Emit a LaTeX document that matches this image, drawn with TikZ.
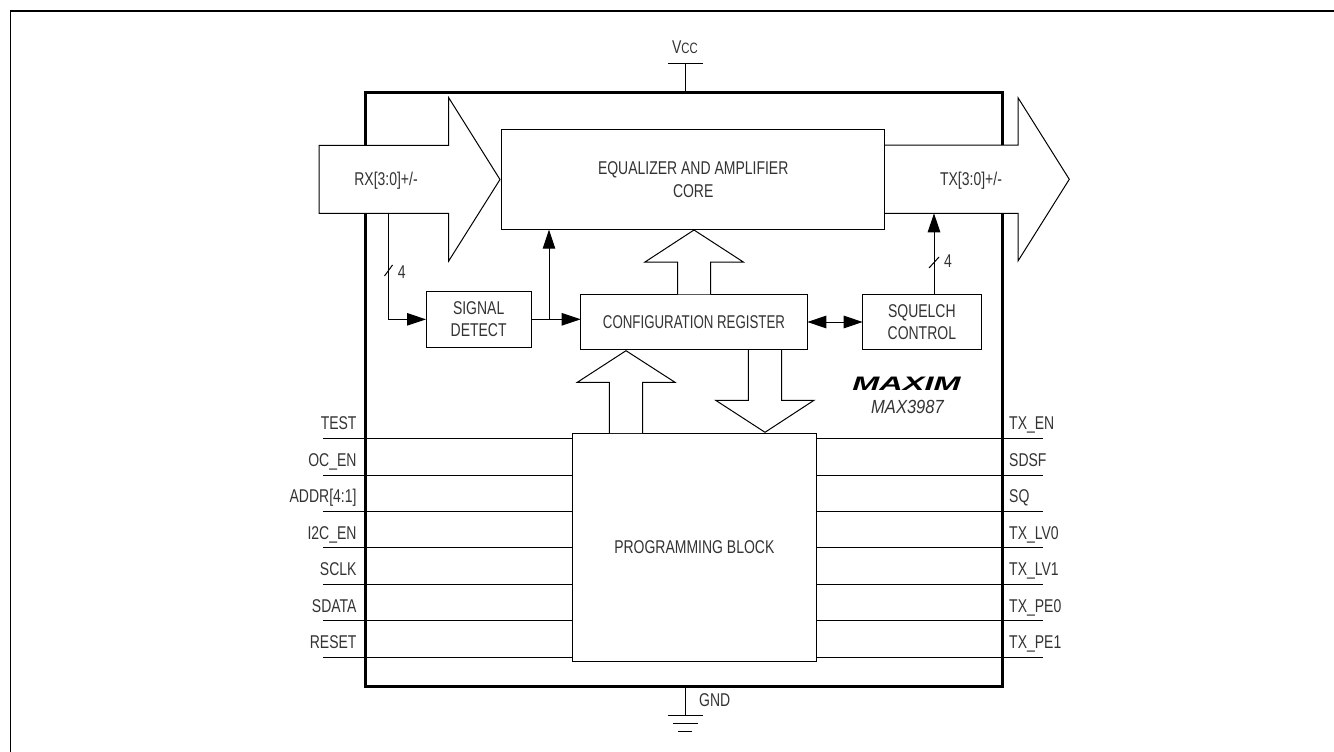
\documentclass[tikz,border=0pt]{standalone}
\usepackage{fontspec}
\setmainfont[FakeStretch=0.756]{Liberation Sans}
\usetikzlibrary{positioning,arrows.meta}
\begin{document}
\begin{tikzpicture}[
		x=1pt,y=-1pt,
		>={Triangle[length=19pt,width=12.5pt]},
		every node/.style={font=\fontsize{18.5}{22.5}\selectfont,text=black!80},
		blockbox/.style={draw,line width=1pt,fill=white,align=center,inner sep=0pt,outer sep=0pt,anchor=north west},
		pinlabel/.style={inner sep=0pt},
		wire/.style={line width=1pt},
		busarrow/.style={draw,line width=1pt,fill=white,line join=miter}
	]
	\useasboundingbox (0,0) rectangle (1334,752);
	\draw[line width=1.4pt] (10.5,752) -- (10.5,11) -- (1334,11);

	% chip outline
	\node (chip) [draw,line width=3pt,minimum width=636.3pt,minimum height=593.7pt,anchor=north west,inner sep=0pt,outer sep=0pt] at (365.7,92.3) {};

	% supply pins
	\coordinate (vcctop) at (685,64);
	\coordinate (gndtop) at (685,715);
	\draw[wire] (vcctop) -- (vcctop |- chip.north);
	\draw[wire] (668,64) -- (703,64);
	\draw[wire] (gndtop |- chip.south) -- (gndtop);
	\draw[wire] (668,715) -- (703,715) (673,723) -- (698,723) (678,731) -- (692,731);
	\node (vcc) [pinlabel,anchor=base] at (685,54) {V\fontsize{15}{15}\selectfont CC};
	\node (gnd) [pinlabel,anchor=base west] at (699,706) {GND};

	% big bus arrows
	\draw[busarrow] (319,145.3) -- (448.7,145.3) -- (448.7,97.7) -- (500,179.5) -- (448.7,261) -- (448.7,213.3) -- (319,213.3) -- cycle;
	\draw[busarrow] (870,145) -- (1018,145) -- (1018,97.7) -- (1069.3,179.3) -- (1018,261) -- (1018,213.3) -- (870,213.3) -- cycle;

	% blocks
	\node (core) [blockbox,minimum width=383pt,minimum height=100.4pt] at (501.7,129.3) {EQUALIZER AND AMPLIFIER\\CORE};
	\node (signal) [blockbox,minimum width=105.3pt,minimum height=55.3pt] at (426,291.7) {SIGNAL\\DETECT};
	\node (config) [blockbox,minimum width=226.6pt,minimum height=55.4pt] at (580.7,294.3) {\scalebox{0.95}[1]{CONFIGURATION REGISTER}};
	\node (squelch) [blockbox,minimum width=118.3pt,minimum height=55.4pt] at (862.7,294.3) {SQUELCH\\CONTROL};
	\node (prog) [blockbox,minimum width=244pt,minimum height=228.3pt] at (572.3,433) {PROGRAMMING BLOCK};

	\node (rx) [pinlabel] at (386,181) {RX[3:0]+/-};
	\node (tx) [pinlabel] at (971,180.5) {TX[3:0]+/-};

	\draw[busarrow] (677.7,294.3) -- (677.7,262) -- (645,262) -- (694,230) -- (743.3,262) -- (710.7,262) -- (710.7,294.3);
	\draw[busarrow] (609.3,433) -- (609.3,382.3) -- (577.3,382.3) -- (626,350.7) -- (675,382.3) -- (642.7,382.3) -- (642.7,433);
	\draw[busarrow] (748.3,350) -- (748.3,400.3) -- (715.7,400.3) -- (765,432.3) -- (814,400.3) -- (781.7,400.3) -- (781.7,350);

	% control paths
	\coordinate (rxtap) at (388.7,213.3);
	\coordinate (sigout) at (549,319.3);
	\draw[->,wire] (rxtap) |- (signal.west);
	\draw[wire] (384.5,276) -- (392.5,265);
	\node (rxfour) [pinlabel] at (401.7,272) {4};
	\draw[->,wire] (signal.east |- sigout) -- (config.west |- sigout);
	\draw[->,wire] (sigout) -- (sigout |- core.south);
	\draw[<->,wire] (config.east) -- (squelch.west);
	\coordinate (txtap) at (934,213.3);
	\draw[->,wire] (txtap |- squelch.north) -- (txtap);
	\draw[wire] (929,268) -- (939,257);
	\node (txfour) [pinlabel] at (948,261) {4};

	% part name
	\node (logo) [pinlabel,font=\fontsize{19.5}{19.5}\bfseries\itshape\selectfont,xscale=2.2,text=black] at (906.5,384) {MAXIM};
	\node (part) [pinlabel,font=\fontsize{19}{22}\itshape\selectfont,xscale=1.15] at (907.5,407) {MAX3987};

	% pins
	\foreach \name/\ypos in {TEST/438.3,OC\_EN/475,ADDR[4:1]/511,I2C\_EN/547.7,SCLK/584,SDATA/620.7,RESET/657.3}{
		\draw[wire] (323.3,\ypos) -- (prog.west |- 0,\ypos);
		\node [pinlabel,anchor=base east] at (356.7,\ypos-8.5) {\name};
	}
	\foreach \name/\ypos in {TX\_EN/438.3,SDSF/475,SQ/511,TX\_LV0/547.7,TX\_LV1/584,TX\_PE0/620.7,TX\_PE1/657.3}{
		\draw[wire] (prog.east |- 0,\ypos) -- (1043,\ypos);
		\node [pinlabel,anchor=base west] at (1009,\ypos-8.5) {\name};
	}
\end{tikzpicture}
\end{document}
